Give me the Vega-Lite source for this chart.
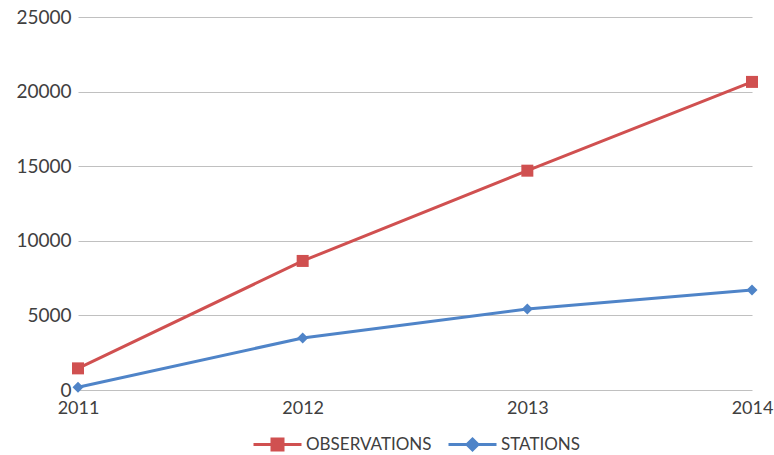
{
  "$schema": "https://vega.github.io/schema/vega-lite/v6.json",
  "autosize": "none",
  "width": 674,
  "height": 373,
  "padding": {"left": 78, "top": 17, "right": 22, "bottom": 65},
  "background": "white",
  "config": {
    "view": {"stroke": null},
    "font": "Lato",
    "axis": {"labelFont": "Lato", "labelColor": "#404040", "labelFontSize": 18},
    "legend": {"labelFont": "Lato", "labelColor": "#404040", "labelFontSize": 17}
  },
  "data": {
    "values": [
      {"year": "2011", "series": "OBSERVATIONS", "value": 1450},
      {"year": "2012", "series": "OBSERVATIONS", "value": 8650},
      {"year": "2013", "series": "OBSERVATIONS", "value": 14700},
      {"year": "2014", "series": "OBSERVATIONS", "value": 20650},
      {"year": "2011", "series": "STATIONS", "value": 180},
      {"year": "2012", "series": "STATIONS", "value": 3490},
      {"year": "2013", "series": "STATIONS", "value": 5430},
      {"year": "2014", "series": "STATIONS", "value": 6710}
    ]
  },
  "encoding": {
    "x": {
      "field": "year", "type": "ordinal",
      "scale": {"type": "point", "padding": 0},
      "axis": {"title": null, "labelAngle": 0, "domain": false, "ticks": false, "grid": false, "labelPadding": 9, "labelFlush": false}
    },
    "y": {
      "field": "value", "type": "quantitative",
      "scale": {"domain": [0, 25000], "nice": false},
      "axis": {"title": null, "values": [0, 5000, 10000, 15000, 20000, 25000], "domain": false, "ticks": false, "grid": true, "gridColor": "#C0C0C0", "gridWidth": 1.2, "labelPadding": 7, "labelFontSize": 19, "format": "d"}
    },
    "color": {
      "field": "series", "type": "nominal",
      "scale": {"domain": ["OBSERVATIONS", "STATIONS"], "range": ["#D05050", "#4F84C8"]},
      "legend": {
        "title": null,
        "orient": "none",
        "direction": "horizontal",
        "legendX": 191,
        "legendY": 419,
        "symbolSize": 100,
        "symbolStrokeWidth": 3,
        "symbolOpacity": 1,
        "labelOffset": 20,
        "columnPadding": 10
      }
    }
  },
  "layer": [
    {"mark": {"type": "line", "strokeWidth": 3}},
    {
      "transform": [{"filter": "datum.series === 'OBSERVATIONS'"}],
      "mark": {"type": "point", "filled": true, "opacity": 1, "shape": "square", "size": 144}
    },
    {
      "transform": [{"filter": "datum.series === 'STATIONS'"}],
      "mark": {"type": "point", "filled": true, "opacity": 1, "shape": "diamond", "size": 121}
    },
    {
      "mark": {"type": "point", "filled": true, "opacity": 0},
      "encoding": {
        "shape": {"field": "series", "type": "nominal", "scale": {"domain": ["OBSERVATIONS", "STATIONS"], "range": ["M-4.8,0H4.8M-1.1,-1.1H1.1V1.1H-1.1Z", "M-4.8,0H4.8M0,-1.1L1.1,0L0,1.1L-1.1,0Z"]}, "legend": null}
      }
    }
  ]
}
